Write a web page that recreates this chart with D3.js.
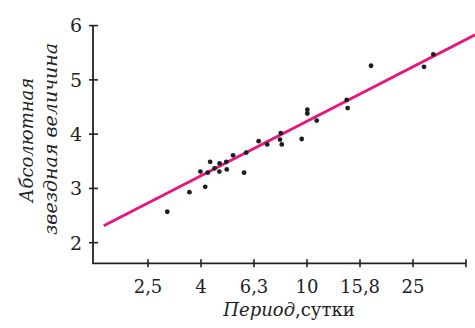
<!DOCTYPE html>
<html>
<head>
<meta charset="utf-8">
<script src="https://cdn.jsdelivr.net/npm/d3@7"></script>
<style>
  body { margin: 0; background: #fff; }
  svg text { font-family: "DejaVu Serif", "Liberation Serif", serif; fill: #222; }
</style>
</head>
<body>
<script>
// period (days) and absolute magnitude
var period = [2.97, 3.60, 4.13, 3.96, 4.31, 4.22, 4.48, 4.68, 4.67, 4.96, 4.98, 5.26, 5.79, 5.90,
              6.57, 7.08, 7.96, 7.91, 8.03, 9.55, 10.88, 10.03, 10.03, 14.12, 14.24, 17.44, 27.64, 29.97];
var magnitude = [2.57, 2.93, 3.03, 3.31, 3.49, 3.29, 3.37, 3.46, 3.31, 3.49, 3.35, 3.61, 3.29, 3.66,
                 3.87, 3.81, 4.02, 3.90, 3.81, 3.91, 4.25, 4.45, 4.38, 4.63, 4.48, 5.26, 5.24, 5.47];
// fitted line ends
var lineP = [1.71, 43.1];
var lineM = [2.31, 5.83];

var xTicks = [2.512, 3.981, 6.310, 10, 15.85, 25.12, 39.81];
var xTickLabels = ["2,5", "4", "6,3", "10", "15,8", "25", ""];
var yTicks = [2, 3, 4, 5, 6];

var width = 475, height = 328;

var svg = d3.select("body").append("svg")
    .attr("width", width)
    .attr("height", height);

var x = d3.scaleLog().domain([Math.pow(10, 0.2), Math.pow(10, 1.6)]).range([95, 466]);
var y = d3.scaleLinear().domain([1.62, 6]).range([263.3, 25.6]);

var x0 = 93, y0 = 263.3;

// fitted line
svg.append("line")
    .attr("x1", x(lineP[0])).attr("y1", y(lineM[0]))
    .attr("x2", x(lineP[1])).attr("y2", y(lineM[1]))
    .attr("stroke", "#e8157f")
    .attr("stroke-width", 2.8);

// points
svg.selectAll("circle")
    .data(period)
    .enter().append("circle")
    .attr("cx", function(d) { return x(d); })
    .attr("cy", function(d, i) { return y(magnitude[i]); })
    .attr("r", 2.4)
    .attr("fill", "#1e1e1e");

// axes lines
svg.append("path")
    .attr("d", "M" + x0 + "," + y(6) + "V" + y0 + "H" + x(xTicks[6]))
    .attr("fill", "none")
    .attr("stroke", "#222")
    .attr("stroke-width", 1.8);

// x ticks
var xt = svg.selectAll(".xt").data(xTicks).enter().append("g")
    .attr("class", "xt")
    .attr("transform", function(d) { return "translate(" + x(d) + "," + y0 + ")"; });
xt.append("line").attr("y1", -4).attr("y2", 4).attr("stroke", "#222").attr("stroke-width", 1.6);
xt.append("text")
    .attr("y", 30)
    .attr("text-anchor", "middle")
    .style("font-size", "18px")
    .text(function(d, i) { return xTickLabels[i]; });

// y ticks
var yt = svg.selectAll(".yt").data(yTicks).enter().append("g")
    .attr("class", "yt")
    .attr("transform", function(d) { return "translate(" + x0 + "," + y(d) + ")"; });
yt.append("line").attr("x1", -4).attr("x2", 5).attr("stroke", "#222").attr("stroke-width", 1.6);
yt.append("text")
    .attr("x", -11)
    .attr("dy", "0.36em")
    .attr("text-anchor", "end")
    .style("font-size", "19px")
    .text(function(d) { return d; });

// axis titles
var xl = svg.append("text")
    .attr("x", 289)
    .attr("y", 316)
    .attr("text-anchor", "middle")
    .style("font-size", "18px");
xl.append("tspan").style("font-style", "italic").text("Период");
xl.append("tspan").text(",сутки");

svg.append("text")
    .attr("transform", "translate(33,140) rotate(-90)")
    .attr("text-anchor", "middle")
    .style("font-size", "18px")
    .style("font-style", "italic")
    .text("Абсолютная");
svg.append("text")
    .attr("transform", "translate(57,139) rotate(-90)")
    .attr("text-anchor", "middle")
    .style("font-size", "19px")
    .style("font-style", "italic")
    .text("звездная величина");
</script>
</body>
</html>
